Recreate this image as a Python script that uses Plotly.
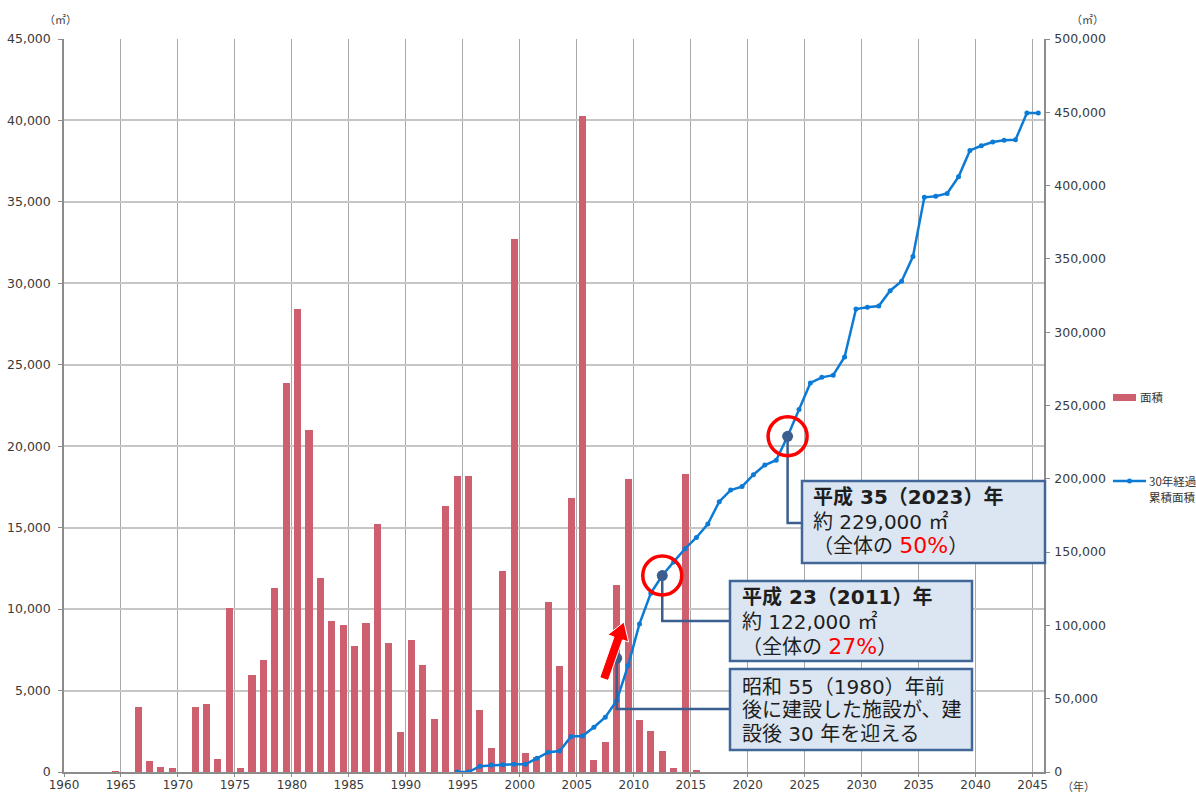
import plotly.graph_objects as go

# ---------------- data ----------------
bar_years = list(range(1960, 2016))
bar_area = [0, 0, 0, 0, 50, 0, 4000, 700, 300, 250,
            0, 4000, 4150, 800, 10050, 230, 5950, 6900, 11300, 23900,
            28400, 21000, 11900, 9300, 9000, 7750, 9150, 15200, 7900, 2430,
            8100, 6550, 3250, 16300, 18200, 18200, 3800, 1500, 12350, 32700,
            1150, 930, 10450, 6500, 16800, 40300, 720, 1850, 11450, 18000,
            3200, 2500, 1270, 220, 18300, 110]

line_years = list(range(1994, 2046))
line_cum = [0, 0, 4000, 4700, 5000, 5300, 5300, 9300, 13500, 14300,
            24300, 24500, 30500, 37400, 48700, 72600, 101000, 122000, 134000, 143300,
            152300, 160000, 169200, 184400, 192300, 194700, 202800, 209400, 212700, 229000,
            247200, 265400, 269200, 270700, 283100, 315800, 317000, 317900, 328300, 334800,
            351600, 392000, 392700, 394600, 406000, 424000, 427200, 429700, 430900, 431200,
            449500, 449600]

x_tick_years = list(range(1960, 2046, 5))

# ---------------- geometry helpers ----------------
W, H = 1196, 794
ML, MR, MT, MB = 64, 152, 39, 22
PW, PH = W - ML - MR, H - MT - MB
X0, X1 = 1960, 2046
Y2MAX = 500000

def pxp(px):  # pixel x -> paper x
    return (px - ML) / PW

def pyp(py):  # pixel y -> paper y
    return (H - MB - py) / PH

def px2x(px):
    return X0 + (px - ML) / PW * (X1 - X0)

def py2y2(py):
    return (H - MB - py) / PH * Y2MAX

BAR_COLOR = "#CD5F6E"
LINE_COLOR = "#0C7BD6"
DARK = "#3B5E8E"
BOX_FILL = "#DCE6F2"
BOX_LINE = "#41679A"
TXT = "#1E1E1E"
CJK = "Noto Sans CJK JP"
NUMF = "DejaVu Sans, Noto Sans CJK JP"

fig = go.Figure()

fig.add_trace(go.Bar(
    x=[y + 0.5 for y in bar_years], y=bar_area, width=0.62,
    marker=dict(color=BAR_COLOR, line=dict(width=0)),
    name="面積", showlegend=False, hoverinfo="skip"))

fig.add_trace(go.Scatter(
    x=[y + 0.5 for y in line_years], y=line_cum, yaxis="y2",
    mode="lines+markers", line=dict(color=LINE_COLOR, width=2.5),
    marker=dict(size=5, color=LINE_COLOR),
    name="30年経過累積面積", showlegend=False, hoverinfo="skip"))

# ---- callout pointers ----
i12 = line_years.index(2012)
i23 = line_years.index(2023)
pA = (line_years[i23] + 0.5, line_cum[i23])
pB = (line_years[i12] + 0.5, line_cum[i12])
pC = (2008.5, 77600)

connectors = [
    (pA, 523, 802),
    (pB, 621, 730),
    (pC, 709, 730),
]
for (mx, my), cy, bx in connectors:
    fig.add_trace(go.Scatter(
        x=[mx, mx, px2x(bx)], y=[my, py2y2(cy), py2y2(cy)], yaxis="y2",
        mode="lines", line=dict(color=DARK, width=2.5),
        showlegend=False, hoverinfo="skip"))

fig.add_trace(go.Scatter(
    x=[pA[0], pB[0]], y=[pA[1], pB[1]], yaxis="y2", mode="markers",
    marker=dict(symbol="circle-open", size=39, color="#FF0000",
                line=dict(color="#FF0000", width=3.5)),
    showlegend=False, hoverinfo="skip"))
fig.add_trace(go.Scatter(
    x=[pA[0], pB[0], pC[0]], y=[pA[1], pB[1], pC[1]], yaxis="y2", mode="markers",
    marker=dict(size=11, color=DARK),
    showlegend=False, hoverinfo="skip"))

shapes = []
annotations = []

# ---- red arrow (polygon, pixels) ----
arrow_pts = [(599.8, 677.5), (614.0, 636.9), (607.8, 634.8), (624.0, 622.0),
             (628.6, 642.0), (622.5, 639.9), (608.3, 680.5)]
path = "M " + " L ".join(f"{pxp(a):.5f},{pyp(b):.5f}" for a, b in arrow_pts) + " Z"
shapes.append(dict(type="path", xref="paper", yref="paper", path=path,
                   fillcolor="#FF0000", line=dict(color="white", width=1), layer="above"))

# ---- boxes ----
RED = "<span style='color:#FF0000;font-size:22px'>{}</span>"
boxes = [
    ((802, 481, 1045, 563), 811, [497, 521.5, 545],
     ["<b>平成 35（2023）年</b>", "約 229,000 ㎡",
      "（全体の " + RED.format("50%") + "）"]),
    ((730, 581, 972, 661), 740, [597, 621.5, 646],
     ["<b>平成 23（2011）年</b>", "約 122,000 ㎡",
      "（全体の " + RED.format("27%") + "）"]),
    ((730, 669, 972, 750), 740, [686.5, 710, 733.5],
     ["昭和 55（1980）年前", "後に建設した施設が、建", "設後 30 年を迎える"]),
]
for (x0, y0, x1, y1), tx, tys, lines in boxes:
    shapes.append(dict(type="rect", xref="paper", yref="paper",
                       x0=pxp(x0), x1=pxp(x1), y0=pyp(y0), y1=pyp(y1),
                       fillcolor=BOX_FILL, line=dict(color=BOX_LINE, width=2.5),
                       layer="above"))
    for ty, t in zip(tys, lines):
        annotations.append(dict(xref="paper", yref="paper", x=pxp(tx), y=pyp(ty),
                                xanchor="left", yanchor="middle", showarrow=False,
                                text=t, font=dict(family=NUMF, size=20, color=TXT)))

# ---- custom legend ----
shapes.append(dict(type="rect", xref="paper", yref="paper",
                   x0=pxp(1113), x1=pxp(1136), y0=pyp(394), y1=pyp(401),
                   fillcolor=BAR_COLOR, line=dict(width=0)))
shapes.append(dict(type="line", xref="paper", yref="paper",
                   x0=pxp(1113), x1=pxp(1146), y0=pyp(481), y1=pyp(481),
                   line=dict(color=LINE_COLOR, width=2.5)))
shapes.append(dict(type="circle", xref="paper", yref="paper",
                   x0=pxp(1127), x1=pxp(1132), y0=pyp(478.5), y1=pyp(483.5),
                   fillcolor=LINE_COLOR, line=dict(width=0)))
for tx, ty, t in [(1138, 397, "面積"), (1147, 481, "30年経過"), (1147, 497, "累積面積")]:
    annotations.append(dict(xref="paper", yref="paper", x=pxp(tx), y=pyp(ty),
                            xanchor="left", yanchor="middle", showarrow=False,
                            text=t, font=dict(family=CJK, size=11.5, color="#333333")))

# ---- axis unit labels ----
for tx, ty, t in [(60, 19, "（㎡）"), (1087, 19, "（㎡）"), (1078, 786, "（年）")]:
    annotations.append(dict(xref="paper", yref="paper", x=pxp(tx), y=pyp(ty),
                            xanchor="center", yanchor="middle", showarrow=False,
                            text=t, font=dict(family=CJK, size=11, color="#404040")))

tickfont = dict(family="DejaVu Sans", size=12.5, color="#3A3A3A")
xtickfont = dict(family="DejaVu Sans", size=12, color="#3A3A3A")
fig.update_layout(
    width=W, height=H,
    margin=dict(l=ML, r=MR, t=MT, b=MB, pad=0, autoexpand=False),
    paper_bgcolor="white", plot_bgcolor="white",
    bargap=0, showlegend=False,
    xaxis=dict(range=[X0, X1], tickvals=x_tick_years, ticktext=[str(v) for v in x_tick_years],
               showgrid=True, gridcolor="#A8A8A8", gridwidth=1,
               showline=True, linecolor="#8C8C8C", linewidth=1.5,
               ticks="outside", ticklen=3, tickcolor="#8C8C8C", ticklabelstandoff=-2,
               tickfont=xtickfont, zeroline=False, fixedrange=True, automargin=False),
    yaxis=dict(range=[0, 45000], dtick=5000, tickformat=",d",
               showgrid=True, gridcolor="#C6C6C6", gridwidth=1.5,
               showline=True, linecolor="#8C8C8C", linewidth=1.5,
               ticks="outside", ticklen=4, tickcolor="#8C8C8C", ticklabelstandoff=5,
               tickfont=tickfont, zeroline=False, fixedrange=True, automargin=False),
    yaxis2=dict(range=[0, Y2MAX], dtick=50000, tickformat=",d",
                overlaying="y", side="right", showgrid=False,
                showline=True, linecolor="#8C8C8C", linewidth=1.5,
                ticks="outside", ticklen=4, tickcolor="#8C8C8C", ticklabelstandoff=2,
                tickfont=tickfont, zeroline=False, fixedrange=True, automargin=False),
    shapes=shapes, annotations=annotations,
)

fig.write_html("out.html", config={"displayModeBar": False},
               post_script="document.body.style.margin='0';")
